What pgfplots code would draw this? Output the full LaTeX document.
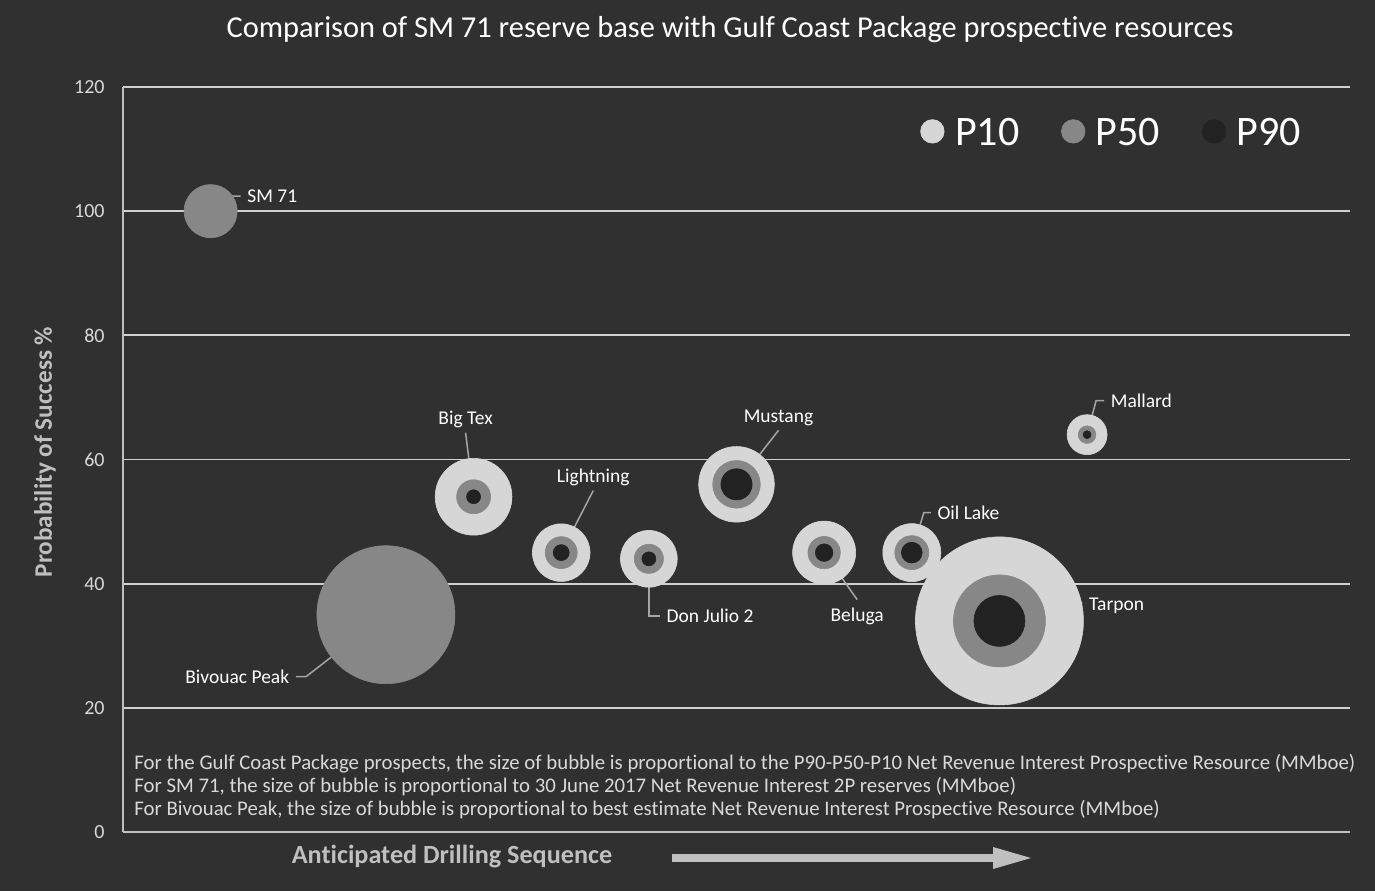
\documentclass[border=0pt]{standalone}
\usepackage{fontspec}
\setmainfont{Carlito}[Ligatures=CommonOff]
\usepackage{pgfplots}
\pgfplotsset{compat=1.18}
\usepackage{pgfplotstable}

\definecolor{bgc}{HTML}{303030}
\definecolor{p10c}{HTML}{D6D6D6}
\definecolor{p50c}{HTML}{878787}
\definecolor{p90c}{HTML}{222222}
\definecolor{gridc}{HTML}{D0D0D0}
\definecolor{axisc}{HTML}{BFBFBF}
\definecolor{leadc}{HTML}{A6A6A6}
\definecolor{notec}{HTML}{D9D9D9}

% drilling order, probability of success (%), bubble radius (pt)
\pgfplotstableread{
x  y    rad
4  54   19.2
5  45   14.4
6  44   14.2
7  56   18.9
8  45   15.75
9  45   14.5
10 34   42
11 64   10
}\ptenTable
\pgfplotstableread{
x  y    rad
1  100  13.3
3  35   34.5
4  54   8.5
5  45   8
6  44   7.3
7  56   11.9
8  45   8.1
9  45   8.5
10 34   23
11 64   4.4
}\pfiftyTable
\pgfplotstableread{
x  y    rad
4  54   3.5
5  45   4
6  44   3.5
7  56   7.8
8  45   4.4
9  45   5.2
10 34   12.75
11 64   2
}\pninetyTable

\pgfplotsset{
  bubble/.style={
    scatter, only marks, mark=*,
    scatter/use mapped color={draw=#1, fill=#1},
    mark options={line width=0.3pt},
    visualization depends on={\thisrow{rad} \as \rad},
    scatter/@pre marker code/.append style={/tikz/mark size=\rad},
    legend image code/.code={
      \path[draw=none, fill=none] (0pt,0.8pt) rectangle (15.2pt,0.8pt);
      \fill[#1] (5.85pt,0.8pt) circle (5.85pt);},
  },
}

\begin{document}
\begin{tikzpicture}[
  lead/.style={draw=leadc, line width=0.75pt},
  lbl/.style={text=white, font=\fontsize{9.75}{11}\selectfont, inner sep=3pt},
]
\path[use as bounding box, fill=bgc] (0,0) rectangle (687.5pt,445.5pt);

\node[text=white, font=\fontsize{15.2}{18}\selectfont] at (365pt,430.5pt)
  {Comparison of SM 71 reserve base with Gulf Coast Package prospective resources};

\begin{axis}[
  at={(61.5pt,29.5pt)}, anchor=south west,
  scale only axis, width=613.5pt, height=372.5pt,
  xmin=0, xmax=14, ymin=0, ymax=120,
  xtick=\empty, ytick={0,20,...,120},
  ymajorgrids, grid style={draw=gridc, line width=0.9pt},
  axis lines*=left, axis line style={draw=axisc, line width=0.9pt},
  major tick length=0pt,
  /pgf/number format/assume math mode=true,
  yticklabel style={text=notec, font=\fontsize{10}{12}\selectfont,
    anchor=east, inner sep=0pt, xshift=-9pt},
  clip=false,
  legend columns=3,
  legend style={draw=none, fill=none, text=white,
    font=\fontsize{21}{24}\selectfont,
    at={(0.8066,0.9383)}, anchor=center,
    /tikz/every even column/.append style={column sep=18.9pt}},
]
\addplot[bubble=p10c] table[x=x, y=y] \ptenTable;
\addlegendentry{P10}
\addplot[bubble=p50c] table[x=x, y=y] \pfiftyTable;
\addlegendentry{P50}
\addplot[bubble=p90c] table[x=x, y=y] \pninetyTable;
\addlegendentry{P90}

% leader lines and prospect names
\draw[lead] (axis cs:1,100) -- ++(9pt,7.5pt) -- ++(6pt,0) node[lbl, anchor=west] {SM 71};
\draw[lead] (axis cs:3,35) -- ++(-40pt,-31pt) -- ++(-5pt,0) node[lbl, anchor=east] {Bivouac Peak};
\draw[lead] (axis cs:4,54) -- ++(-4pt,32pt) node[lbl, anchor=south, inner sep=2pt] {Big Tex};
\draw[lead] (axis cs:5,45) -- ++(16pt,31pt) node[lbl, anchor=south, inner sep=2pt] {Lightning};
\draw[lead] (axis cs:6,44) -- ++(0,-28.5pt) -- ++(5.5pt,0) node[lbl, anchor=west] {Don Julio 2};
\draw[lead] (axis cs:7,56) -- ++(21pt,27pt) node[lbl, anchor=south, inner sep=2pt] {Mustang};
\draw[lead] (axis cs:8,45) -- ++(16.5pt,-23.5pt) node[lbl, anchor=north, inner sep=4pt] {Beluga};
\draw[lead] (axis cs:9,45) -- ++(6pt,20pt) -- ++(3.5pt,0) node[lbl, anchor=west] {Oil Lake};
\draw[lead] (axis cs:10,34) -- ++(41.5pt,9pt) node[lbl, anchor=west, yshift=-1.5pt] {Tarpon};
\draw[lead] (axis cs:11,64) -- ++(4.5pt,17pt) -- ++(4pt,0) node[lbl, anchor=west] {Mallard};
\end{axis}

% notes on bubble sizes
\begin{scope}[every node/.style={anchor=mid west, text=notec, inner sep=0pt,
    font=\fontsize{10.4}{12}\selectfont}]
\node at (67pt,63pt) {For the Gulf Coast Package prospects, the size of bubble is proportional to the P90-P50-P10 Net Revenue Interest Prospective Resource (MMboe)};
\node at (67pt,51.5pt) {For SM 71, the size of bubble is proportional to 30 June 2017 Net Revenue Interest 2P reserves (MMboe)};
\node at (67pt,40pt) {For Bivouac Peak, the size of bubble is proportional to best estimate Net Revenue Interest Prospective Resource (MMboe)};
\end{scope}

% axis titles
\node[rotate=90, text=axisc, font=\bfseries\fontsize{12.6}{14}\selectfont] at (22.5pt,219.5pt)
  {Probability of Success \%};
\node[text=axisc, font=\bfseries\fontsize{13.1}{15}\selectfont] at (226pt,17pt)
  {Anticipated Drilling Sequence};
\fill[axisc] (336pt,14.5pt) rectangle (497pt,18.5pt);
\fill[axisc] (496.5pt,22pt) -- (515.5pt,16.5pt) -- (496.5pt,11pt) -- cycle;
\end{tikzpicture}
\end{document}
